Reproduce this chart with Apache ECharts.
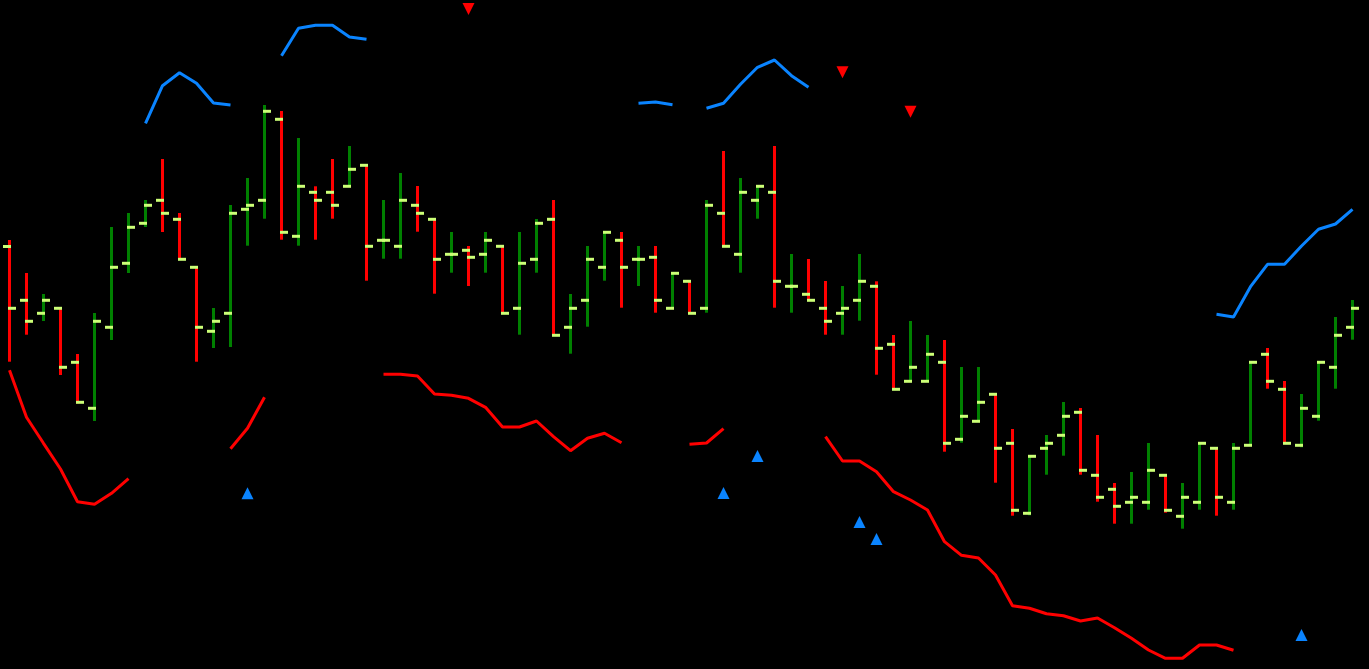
<!DOCTYPE html>
<html>
<head>
<meta charset="utf-8">
<script src="https://cdn.jsdelivr.net/npm/echarts@6/dist/echarts.min.js"></script>
<style>
html,body{margin:0;padding:0;background:#000;}
#main{width:1369px;height:669px;}
</style>
</head>
<body>
<div id="main"></div>
<script>
const categories = [
 'D01','D02','D03','D04','D05','D06','D07','D08','D09','D10',
 'D11','D12','D13','D14','D15','D16','D17','D18','D19','D20',
 'D21','D22','D23','D24','D25','D26','D27','D28','D29','D30',
 'D31','D32','D33','D34','D35','D36','D37','D38','D39','D40',
 'D41','D42','D43','D44','D45','D46','D47','D48','D49','D50',
 'D51','D52','D53','D54','D55','D56','D57','D58','D59','D60',
 'D61','D62','D63','D64','D65','D66','D67','D68','D69','D70',
 'D71','D72','D73','D74','D75','D76','D77','D78','D79','D80'
];
// [open, close, low, high]
const ohlc = [
 [422.5,360.7,307.3,429],[368.7,347.7,334.3,396],[355.7,368.7,348,375],[360.7,301.7,294,360.7],
 [306.7,266.7,265.7,315],[260.7,347.7,248,356],[341.7,401.7,329,442],[405.7,441.7,396,456],
 [445.7,463.7,442,469],[468.7,455.7,437,510],[449.7,409.7,409.7,456],[401.7,341.7,307.3,401.7],
 [337.7,347.7,321,361],[355.7,455.7,322,464],[459.7,463.7,423.3,491],[468.7,557.7,450.3,564],
 [549.7,436.7,429.3,558],[432.7,482.7,423.3,531],[476.7,468.7,429.3,482.7],[476.7,463.7,450.3,510],
 [482.7,499.7,482.7,523],[503.7,422.7,388.3,503.7],[428.7,428.7,410.3,469],[422.7,468.7,410.3,496],
 [463.7,455.7,437.3,483],[449.7,409.7,375.3,449.7],[414.7,414.7,396.3,437],[418.7,411.7,383,423],
 [414.7,428.7,396.3,437],[422.7,355.7,355.7,422.7],[360.7,405.7,334.3,437],[409.7,445.7,396.3,450],
 [449.7,333.7,333.7,469],[341.7,360.7,315.3,375],[368.7,409.7,342.3,423],[401.7,436.7,388.3,436.7],
 [428.7,401.7,361.3,437],[409.7,409.7,383,423],[411.7,368.7,356.3,423],[360.7,395.7,360.7,395.7],
 [387.7,355.7,355.7,387.7],[360.7,463.7,356.3,469],[455.7,422.7,422.7,518],[414.7,476.7,396.3,491],
 [468.7,482.7,450.3,482.7],[476.7,387.7,361.3,523],[382.7,382.7,356.3,415],[374.7,368.7,368.7,410],
 [360.7,347.7,334.3,388],[355.7,360.7,334.3,383],[368.7,387.7,348.3,415],[382.7,320.7,294.3,387.7],
 [324.7,279.7,279,334],[287.7,301.7,287.7,348],[287.7,314.7,287.7,334],[306.7,225.7,217.3,329],
 [229.7,252.7,226.3,302],[247.7,266.7,247.7,302],[274.7,220.7,186.3,274.7],[225.7,158.7,153.3,240],
 [155.7,212.7,153.7,212.7],[220.7,225.7,194.3,234],[233.7,252.7,213.3,267],[256.7,198.7,194.3,261],
 [193.7,171.7,167.3,234],[179.7,162.7,145.3,186],[166.7,171.7,145.3,197],[166.7,198.7,159.3,226],
 [193.7,158.7,156.3,193.7],[152.7,171.7,140.3,186],[166.7,225.7,159.3,226],[220.7,171.7,153.3,220.7],
 [166.7,220.7,159.3,226],[223.7,306.7,223.7,306.7],[314.7,287.7,280.3,321],[279.7,225.7,225.7,288],
 [223.7,260.7,221.7,275],[252.7,306.7,248.3,306.7],[301.7,333.7,280.3,352],[341.7,360.7,329.3,369]
];
const upperBand = [
 null,null,null,null,null,null,null,null,545.7,583.3,
 596.3,585.7,566,564,null,null,613.3,640.7,643.7,643.7,
 632,629.7,null,null,null,null,null,null,null,null,
 null,null,null,null,null,null,null,565.7,567,564.3,
 null,560.7,565.7,584.7,601.7,609,593.3,581.7,null,null,
 null,null,null,null,null,null,null,null,null,null,
 null,null,null,null,null,null,null,null,null,null,
 null,354.7,352,382.3,404.7,404.7,423,439.7,445,459.7
];
const lowerBand = [
 298.7,251.7,225.7,200,167.3,164.7,175.7,190.3,null,null,
 null,null,null,220.3,240.7,271.7,null,null,null,null,
 null,null,294.7,294.7,293,275,273.7,270.7,261.7,242,
 242,248,232.3,218.3,230.7,235.7,226.3,null,null,null,
 224.7,226,240.3,null,null,null,null,null,232.3,208,
 208,197.3,177.3,169,159,127.3,113.7,111,94,63.3,
 60.7,55.3,53.3,48,51,41.3,30.7,19,10.7,10.7,
 24,24,18.7,null,null,null,null,null,null,null
];
const sellSignals = [[27,660],[49,596.7],[53,557.3]];
const buySignals = [[14,175.7],[42,176],[44,213],[50,147],[51,130],[76,34]];

const ohlcData = ohlc.map((d, i) => [i, d[0], d[1], d[2], d[3]]);

const chart = echarts.init(document.getElementById('main'));
chart.setOption({
  backgroundColor: '#000',
  animation: false,
  grid: { left: 1, right: 8, top: 0, bottom: 0 },
  xAxis: {
    type: 'category', data: categories, boundaryGap: true,
    show: false
  },
  yAxis: { type: 'value', min: 0, max: 669, show: false, splitLine: { show: false } },
  series: [
    {
      type: 'custom',
      data: ohlcData,
      encode: { x: 0, y: [1, 2, 3, 4] },
      renderItem: function (params, api) {
        const idx = api.value(0);
        const o = api.value(1), c = api.value(2), l = api.value(3), h = api.value(4);
        const x = api.coord([idx, o])[0];
        const oy = api.coord([idx, o])[1];
        const cy = api.coord([idx, c])[1];
        const ly = api.coord([idx, l])[1];
        const hy = api.coord([idx, h])[1];
        const col = c >= o ? '#008000' : '#ff0000';
        const tick = '#ccff77';
        return {
          type: 'group',
          children: [
            { type: 'rect', shape: { x: x - 1.5, y: hy, width: 3, height: ly - hy }, style: { fill: col } },
            { type: 'rect', shape: { x: x - 6.5, y: oy - 1.5, width: 8, height: 3 }, style: { fill: tick } },
            { type: 'rect', shape: { x: x - 1.5, y: cy - 1.5, width: 8, height: 3 }, style: { fill: tick } }
          ]
        };
      }
    },
    {
      type: 'line', data: upperBand, symbol: 'none', connectNulls: false,
      lineStyle: { color: '#0a84ff', width: 3 }, itemStyle: { color: '#0a84ff' }
    },
    {
      type: 'line', data: lowerBand, symbol: 'none', connectNulls: false,
      lineStyle: { color: '#ff0000', width: 3 }, itemStyle: { color: '#ff0000' }
    },
    {
      type: 'scatter', data: sellSignals, symbol: 'triangle', symbolRotate: 180,
      symbolSize: [12, 12], itemStyle: { color: '#ff0000', opacity: 1 }
    },
    {
      type: 'scatter', data: buySignals, symbol: 'triangle',
      symbolSize: [12, 12], itemStyle: { color: '#0a84ff', opacity: 1 }
    }
  ]
});
</script>
</body>
</html>
